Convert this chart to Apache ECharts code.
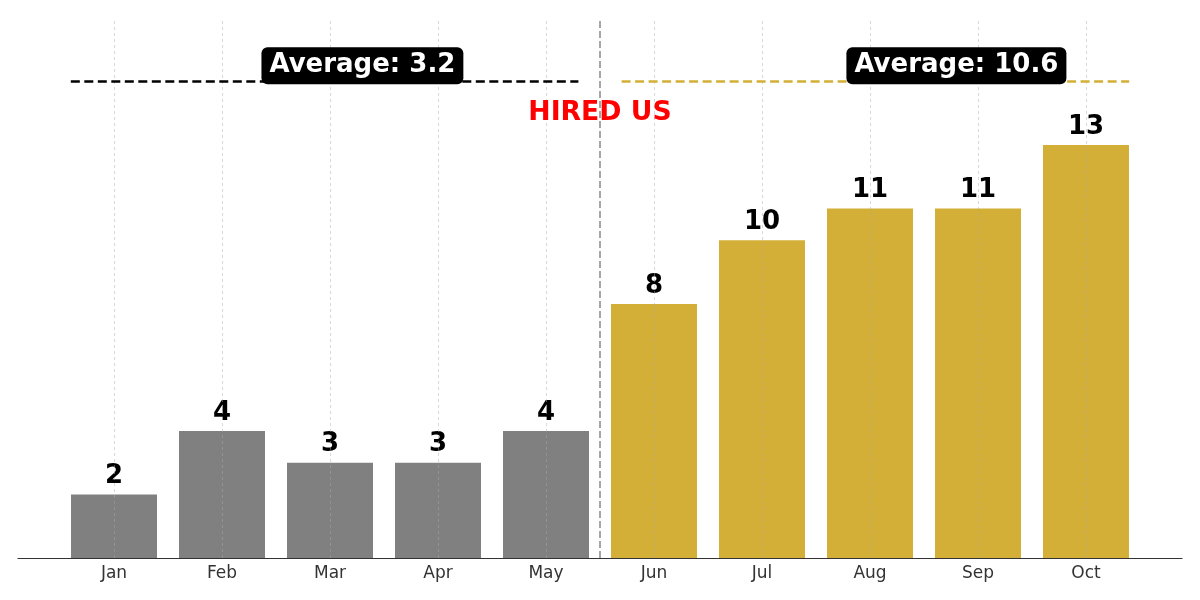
<!DOCTYPE html>
<html>
<head>
<meta charset="utf-8">
<title>Hired us</title>
<script src="https://cdn.jsdelivr.net/npm/echarts@6/dist/echarts.min.js"></script>
<style>
  html, body { margin: 0; padding: 0; background: #fff; }
  #main { width: 1200px; height: 600px; }
</style>
</head>
<body>
<div id="main"></div>
<script>
  // data
  var months = ['Jan', 'Feb', 'Mar', 'Apr', 'May', 'Jun', 'Jul', 'Aug', 'Sep', 'Oct'];
  var sales = [2, 4, 3, 3, 4, 8, 10, 11, 11, 13];
  var splitIndex = 5; // first month after hiring
  var avgLineY = 15;
  var avgLabelY = 15.5;
  var hiredLabelY = 14;

  var GRAY = '#808080';
  var GOLD = '#D4AF37';
  var FONT = 'DejaVu Sans';

  var before = sales.slice(0, splitIndex);
  var after = sales.slice(splitIndex);
  function avg(a) { return a.reduce(function (s, v) { return s + v; }, 0) / a.length; }
  var avgBefore = avg(before);
  var avgAfter = avg(after);

  var ticks = months.map(function (m, i) { return i; });

  var barData = sales.map(function (v, i) {
    return {
      value: [i, v],
      itemStyle: { color: i < splitIndex ? GRAY : GOLD }
    };
  });

  var avgBoxLabel = {
    show: true,
    position: 'inside',
    color: '#fff',
    opacity: 1,
    fontFamily: FONT,
    fontWeight: 'bold',
    fontSize: 26,
    backgroundColor: '#000',
    borderRadius: 6,
    padding: [6, 8, 5, 8]
  };

  var myChart = echarts.init(document.getElementById('main'));
  myChart.setOption({
    animation: false,
    grid: { left: 18, right: 18, top: 18, bottom: 42 },
    xAxis: {
      type: 'value',
      min: -0.889,
      max: 9.889,
      axisLine: { show: true, lineStyle: { color: '#333', width: 1.2 } },
      axisTick: { show: true, inside: true, length: 5, customValues: ticks, lineStyle: { color: '#333', width: 1.2 } },
      axisLabel: {
        customValues: ticks,
        formatter: function (v) { return months[Math.round(v)]; },
        fontFamily: FONT,
        fontSize: 17,
        color: '#333',
        margin: 7
      },
      splitLine: { show: false }
    },
    yAxis: {
      type: 'value',
      min: 0,
      max: 17,
      show: false
    },
    series: [
      {
        type: 'bar',
        z: 2,
        barWidth: 86,
        data: barData,
        label: {
          show: true,
          position: 'top',
          distance: 5,
          formatter: function (p) { return p.value[1]; },
          color: '#000',
          fontFamily: FONT,
          fontWeight: 'bold',
          fontSize: 26
        }
      },
      {
        // vertical grid lines, drawn over the bars
        type: 'line',
        z: 5,
        data: [],
        markLine: {
          silent: true,
          symbol: 'none',
          label: { show: false },
          lineStyle: { color: 'rgba(170,170,170,0.45)', type: [3, 3], width: 1 },
          data: ticks.map(function (t) { return { xAxis: t }; })
        }
      },
      {
        // hiring divider and average lines
        type: 'line',
        z: 6,
        data: [],
        markLine: {
          silent: true,
          symbol: 'none',
          label: { show: false },
          data: [
            { xAxis: splitIndex - 0.5, lineStyle: { color: '#a6a6a6', type: [7, 3], width: 2 } },
            [
              { coord: [-0.4, avgLineY], lineStyle: { color: '#000', type: [9, 4.5], width: 2.5 } },
              { coord: [splitIndex - 0.7, avgLineY] }
            ],
            [
              { coord: [splitIndex - 0.3, avgLineY], lineStyle: { color: GOLD, type: [9, 4.5], width: 2.5 } },
              { coord: [months.length - 0.6, avgLineY] }
            ]
          ]
        }
      },
      {
        type: 'scatter',
        z: 8,
        symbolSize: 0,
        silent: true,
        itemStyle: { opacity: 1 },
        data: [
          { value: [2.3, avgLabelY], label: Object.assign({}, avgBoxLabel, { formatter: 'Average: ' + avgBefore.toFixed(1) }) },
          { value: [7.8, avgLabelY], label: Object.assign({}, avgBoxLabel, { formatter: 'Average: ' + avgAfter.toFixed(1) }) },
          {
            value: [splitIndex - 0.5, hiredLabelY],
            label: {
              show: true,
              position: 'inside',
              formatter: 'HIRED US',
              color: '#ff0000',
              opacity: 1,
              fontFamily: FONT,
              fontWeight: 'bold',
              fontSize: 26.7
            }
          }
        ]
      }
    ]
  });
</script>
</body>
</html>
